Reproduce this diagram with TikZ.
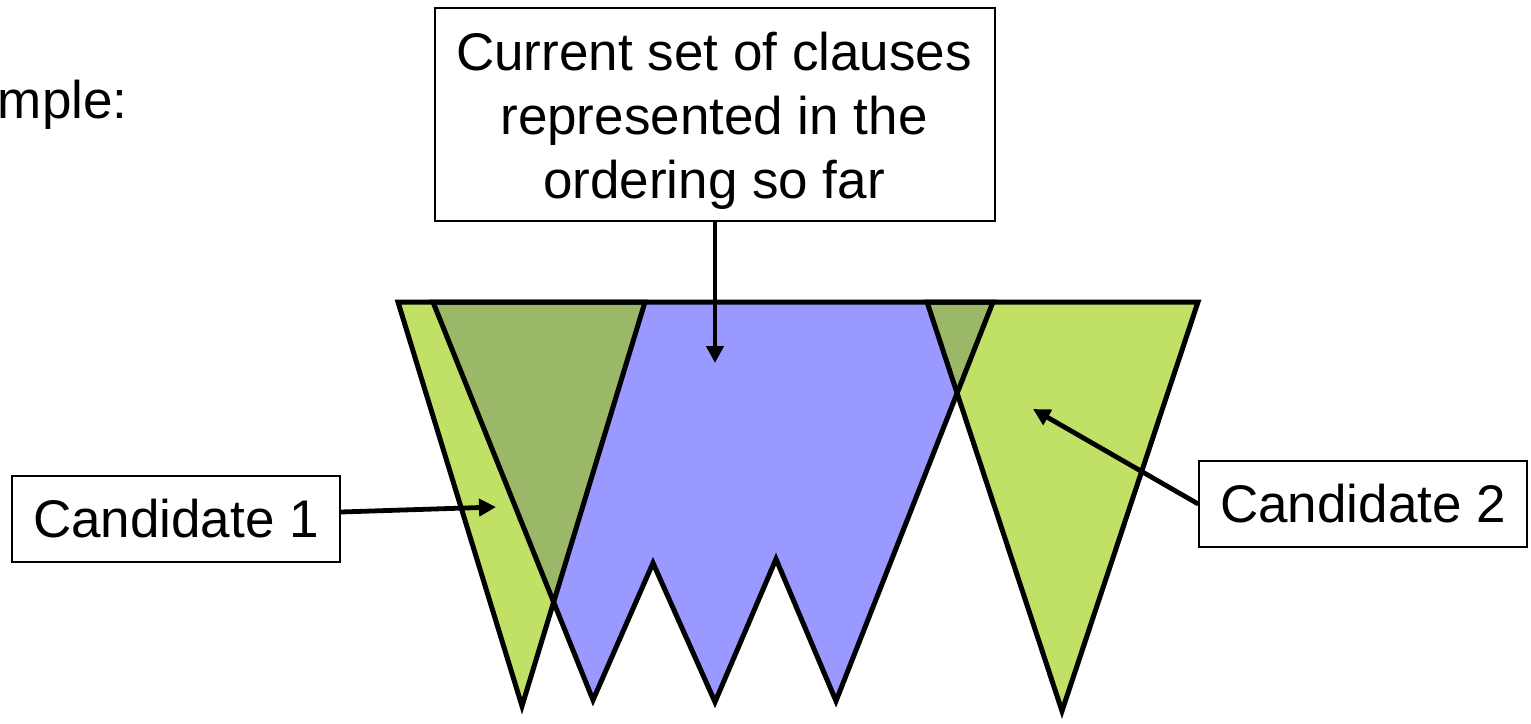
\documentclass[tikz,border=0pt]{standalone}
\usepackage{fontspec}
\setmainfont{Liberation Sans}
\usetikzlibrary{arrows.meta}
\definecolor{lgreen}{RGB}{192,224,102}
\definecolor{dgreen}{RGB}{155,183,104}
\definecolor{lblue}{RGB}{153,153,255}
\begin{document}
\begin{tikzpicture}[x=0.5pt,y=-0.5pt,
  outl/.style={draw=black,line width=2.5pt,line join=miter},
  box/.style={draw=black,line width=0.75pt,fill=white,rectangle,inner sep=0pt,align=center,font=\fontsize{26.5}{32}\selectfont},
  arr/.style={line width=2.4pt,-{Triangle[length=8.5pt,width=8.5pt]}},
  lbl/.style={inner sep=0pt,align=center,font=\fontsize{26.5}{32}\selectfont}]
\useasboundingbox (0,0) rectangle (1531,723);
% title fragment
\node[lbl,anchor=base east] (title) at (128,118) {mple:};
% shape coordinates
\coordinate (L1) at (398,302); \coordinate (L2) at (645,302); \coordinate (L3) at (522,706);
\coordinate (R1) at (927,302); \coordinate (R2) at (1198,302); \coordinate (R3) at (1062,711);
\coordinate (B1) at (433,302); \coordinate (B2) at (593,700); \coordinate (B3) at (653,563);
\coordinate (B4) at (715,702); \coordinate (B5) at (776,559); \coordinate (B6) at (836,701);
\coordinate (B7) at (993,302);
% fills
\fill[lgreen] (L1)--(L2)--(L3)--cycle;
\fill[lgreen] (R1)--(R2)--(R3)--cycle;
\fill[lblue] (B1)--(B2)--(B3)--(B4)--(B5)--(B6)--(B7)--cycle;
\begin{scope}
  \clip (B1)--(B2)--(B3)--(B4)--(B5)--(B6)--(B7)--cycle;
  \fill[dgreen] (L1)--(L2)--(L3)--cycle;
  \fill[dgreen] (R1)--(R2)--(R3)--cycle;
\end{scope}
% outlines
\draw[outl] (L1)--(L2)--(L3)--cycle;
\draw[outl] (R1)--(R2)--(R3)--cycle;
\draw[outl] (B1)--(B2)--(B3)--(B4)--(B5)--(B6)--(B7)--cycle;
% boxes
\node[box,minimum width=280pt,minimum height=106.5pt] (top) at (715,114.5) {};
\node[lbl] (toptext) at (714,121)
  {Current set of clauses\\represented in the\\ordering so far};
\node[box,minimum width=164pt,minimum height=43pt] (c1) at (176,519) {Candidate 1};
\node[box,minimum width=164pt,minimum height=43pt] (c2) at (1363,504) {Candidate 2};
% arrow targets
\coordinate (t1) at (496,507);
\coordinate (t2) at (1033,409);
\coordinate (t3) at (715,363);
\draw[arr] ([yshift=3.5pt]c1.east) -- (t1);
\draw[arr] (c2.west) -- (t2);
\draw[arr] (top.south) -- (t3);
\end{tikzpicture}
\end{document}
